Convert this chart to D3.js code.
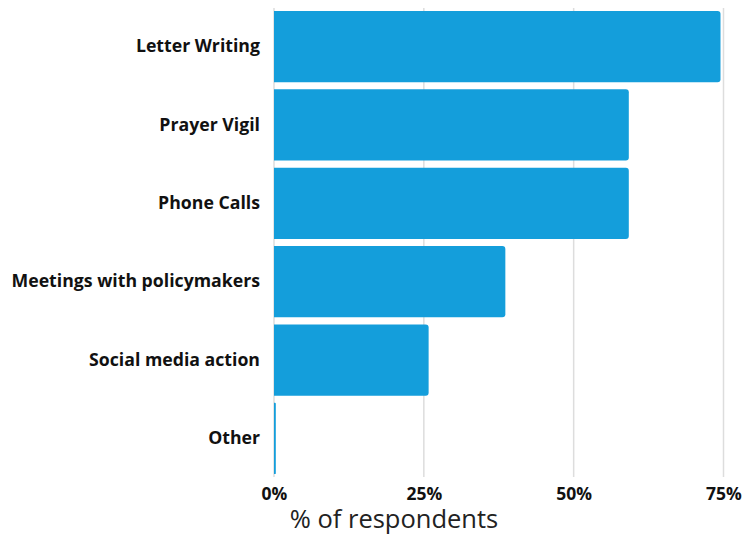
<!DOCTYPE html>
<html>
<head>
<meta charset="utf-8">
<script src="https://cdn.jsdelivr.net/npm/d3@7"></script>
<style>
  body { margin: 0; background: #fff; }
  svg { display: block; font-family: "Open Sans", sans-serif; }
</style>
</head>
<body>
<svg id="chart"></svg>
<script>
const categories = ["Letter Writing", "Prayer Vigil", "Phone Calls", "Meetings with policymakers", "Social media action", "Other"];
const values = [74.5, 59.2, 59.2, 38.6, 25.8, 0.3];
const ticks = [0, 25, 50, 75];

const width = 744, height = 535;
const margin = { top: 7, right: 20.5, bottom: 57, left: 274 };

const svg = d3.select("#chart").attr("width", width).attr("height", height);
const chart = svg.append("g").attr("transform", `translate(${margin.left}, ${margin.top})`);

const innerW = width - margin.left - margin.right;
const innerH = height - margin.top - margin.bottom;

const xscale = d3.scaleLinear().domain([0, 75]).range([0, innerW]);
const yscale = d3.scaleBand().domain(categories).range([0, innerH])
    .paddingInner(0.09).paddingOuter(0.05);

// grid lines
chart.selectAll("line.grid").data(ticks).join("line")
    .attr("class", "grid")
    .attr("x1", d => xscale(d)).attr("x2", d => xscale(d))
    .attr("y1", 1).attr("y2", innerH - 1)
    .attr("stroke", "#dddddd").attr("stroke-width", 1.5);

// bars: square at left, rounded at right end
const r = 3;
chart.selectAll("path.bar").data(categories).join("path")
    .attr("class", "bar")
    .attr("fill", "#149edb")
    .attr("d", (c, i) => {
        const x0 = xscale(0), x1 = xscale(values[i]);
        const y0 = yscale(c), h = yscale.bandwidth();
        const rr = Math.min(r, (x1 - x0) / 2);
        return `M${x0},${y0}H${x1 - rr}Q${x1},${y0} ${x1},${y0 + rr}` +
               `V${y0 + h - rr}Q${x1},${y0 + h} ${x1 - rr},${y0 + h}H${x0}Z`;
    });

// category labels
const yaxis = d3.axisLeft(yscale).tickSize(0).tickPadding(14);
const yg = chart.append("g").call(yaxis);
yg.select(".domain").remove();
yg.selectAll("text")
    .attr("font-family", "Open Sans, sans-serif")
    .attr("font-size", 17.7).attr("font-weight", 700).attr("fill", "#111");

// x tick labels
const xaxis = d3.axisBottom(xscale).tickValues(ticks).tickFormat(d => d + "%").tickSize(0).tickPadding(10);
const xg = chart.append("g").attr("transform", `translate(0, ${innerH})`).call(xaxis);
xg.select(".domain").remove();
xg.selectAll("text")
    .attr("font-family", "Open Sans, sans-serif")
    .attr("font-size", 17.5).attr("font-weight", 700).attr("fill", "#111");

// axis title
svg.append("text")
    .attr("x", 394).attr("y", 528)
    .attr("text-anchor", "middle")
    .attr("font-size", 25.5).attr("fill", "#222")
    .text("% of respondents");
</script>
</body>
</html>
